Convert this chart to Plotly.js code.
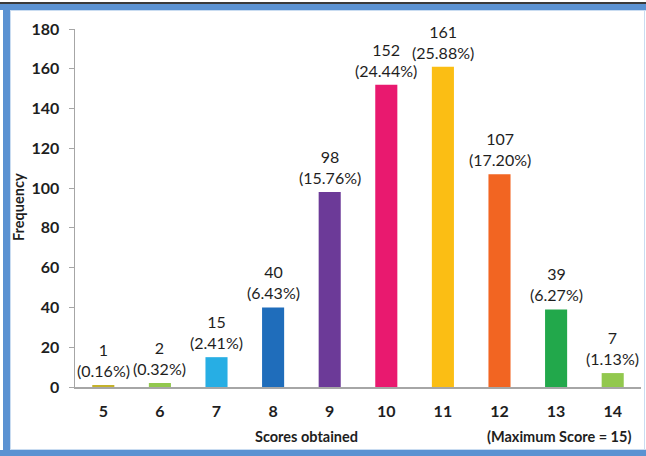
<!DOCTYPE html>
<html>
<head>
<meta charset="utf-8">
<script src="https://cdn.plot.ly/plotly-3.0.1.min.js"></script>
<style>
  html, body { margin: 0; padding: 0; background: #ffffff; }
  #wrap { position: relative; width: 646px; height: 456px; overflow: hidden; }
  #chart { position: absolute; left: 0; top: 0; width: 646px; height: 456px; }
  .edge { position: absolute; pointer-events: none; }
</style>
</head>
<body>
<div id="wrap">
  <div id="chart"></div>
  <!-- window frame around the chart -->
  <div class="edge" style="left:0;top:2px;width:646px;height:2px;background:#3a3a3a;"></div>
  <div class="edge" style="left:0;top:4px;width:646px;height:6px;background:#5b92d2;"></div>
  <div class="edge" style="left:10px;top:10px;width:636px;height:1px;background:#c9dcf1;"></div>
  <div class="edge" style="left:3px;top:4px;width:7px;height:452px;background:#5b92d2;"></div>
  <div class="edge" style="left:10px;top:10px;width:1px;height:440px;background:#c9dcf1;"></div>
  <div class="edge" style="left:0;top:450px;width:646px;height:6px;background:#5b92d2;"></div>
  <div class="edge" style="left:10px;top:449px;width:636px;height:1px;background:#c9dcf1;"></div>
  <div class="edge" style="left:644px;top:10px;width:1px;height:440px;background:#c9dcf1;"></div>
</div>
<script>
// Score distribution (maximum score = 15)
const scores = [5, 6, 7, 8, 9, 10, 11, 12, 13, 14];
const frequency = [1, 2, 15, 40, 98, 152, 161, 107, 39, 7];
const percent = ["0.16", "0.32", "2.41", "6.43", "15.76", "24.44", "25.88", "17.20", "6.27", "1.13"];
const barColors = ["#c4b22a", "#92c84e", "#27aee4", "#1f6dbb", "#6c3a98",
                   "#e9196f", "#fbbe14", "#f26522", "#22a84b", "#92c84e"];
const yTicks = [0, 20, 40, 60, 80, 100, 120, 140, 160, 180];

const textColor = "#1e1e1e";
const font = "Lato, 'Open Sans', sans-serif";

const trace = {
  type: "bar",
  x: scores,
  y: frequency,
  width: 0.39,
  marker: { color: barColors, line: { width: 0 } },
  hoverinfo: "x+y"
};

// two-line value labels above each bar
const labels = scores.map((s, i) => ({
  x: s,
  y: frequency[i],
  xref: "x",
  yref: "y",
  text: frequency[i] + "<br>(" + percent[i] + "%)",
  showarrow: false,
  xanchor: "center",
  yanchor: "bottom",
  yshift: 3,
  font: { family: font, size: 16, color: textColor }
}));

const titles = [
  {
    text: "<b>Scores obtained</b>",
    xref: "paper", yref: "paper",
    x: (306 - 75) / 566, y: (387 - 437) / 358,
    xanchor: "center", yanchor: "middle",
    showarrow: false,
    font: { family: font, size: 14.5, color: textColor }
  },
  {
    text: "<b>(Maximum Score = 15)</b>",
    xref: "paper", yref: "paper",
    x: (559 - 75) / 566, y: (387 - 437) / 358,
    xanchor: "center", yanchor: "middle",
    showarrow: false,
    font: { family: font, size: 14.5, color: textColor }
  },
  {
    text: "<b>Frequency</b>",
    xref: "paper", yref: "paper",
    x: (18 - 75) / 566, y: (387 - 207) / 358,
    xanchor: "center", yanchor: "middle",
    textangle: -90,
    showarrow: false,
    font: { family: font, size: 14.5, color: textColor }
  }
];

const layout = {
  width: 646,
  height: 456,
  margin: { l: 75, r: 5, t: 29, b: 69, pad: 0 },
  paper_bgcolor: "#ffffff",
  plot_bgcolor: "#ffffff",
  showlegend: false,
  xaxis: {
    range: [4.5, 14.5],
    tickmode: "array",
    tickvals: scores,
    ticktext: scores.map(String),
    ticks: "",
    ticklabelstandoff: 9,
    showgrid: false,
    zeroline: false,
    showline: true,
    linecolor: "#a6a6a6",
    linewidth: 1.5,
    tickfont: { family: font, size: 16, color: textColor, weight: "bold" },
    fixedrange: true
  },
  yaxis: {
    range: [0, 180],
    tickmode: "array",
    tickvals: yTicks,
    ticktext: yTicks.map(String),
    ticks: "outside",
    ticklen: 5,
    tickcolor: "#a6a6a6",
    ticklabelstandoff: 6,
    showgrid: false,
    zeroline: false,
    showline: true,
    linecolor: "#a6a6a6",
    linewidth: 1.5,
    tickfont: { family: font, size: 16, color: textColor, weight: "bold" },
    fixedrange: true
  },
  annotations: labels.concat(titles)
};

Plotly.newPlot("chart", [trace], layout, { displayModeBar: false, staticPlot: true });
</script>
</body>
</html>
